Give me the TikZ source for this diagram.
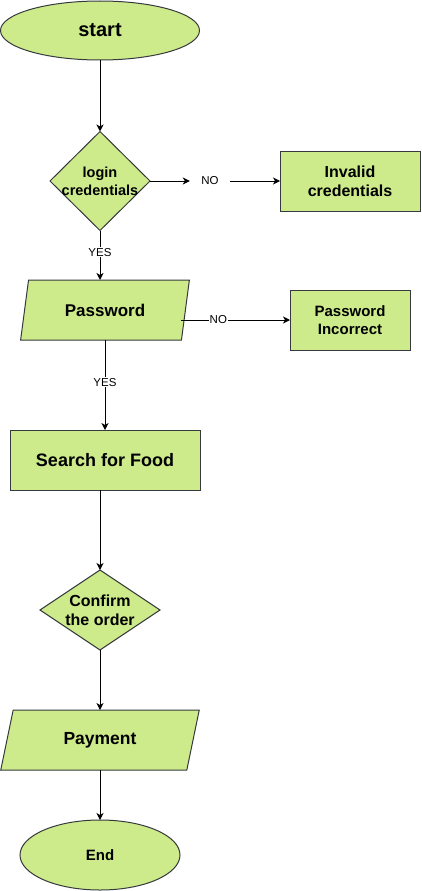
\documentclass[tikz,border=0pt]{standalone}
\usepackage{fontspec}
\setmainfont{Liberation Sans}
\usetikzlibrary{shapes.geometric}
\usetikzlibrary{arrows.meta}
\usetikzlibrary{math}

\definecolor{leaf}{HTML}{CDEB8B}
\definecolor{rim}{HTML}{36393D}

\tikzset{
  base/.style={draw=rim, fill=leaf, line width=1pt, align=center,
    inner sep=0pt, outer sep=0pt},
  terminal/.style={base, ellipse},
  process/.style={base, rectangle},
  decision/.style={base, diamond},
  inout/.style={base, trapezium, trapezium left angle=71.57,
    trapezium right angle=108.43, trapezium stretches=true},
  flow/.style={line width=1pt, -{Stealth[length=7pt, width=7pt, inset=2pt]}},
  tag/.style={font=\fontsize{11.5}{14}\selectfont, fill=white, inner sep=1pt},
}

\begin{document}
\begin{tikzpicture}[x=1pt, y=-1pt]

  \tikzmath{
    \colx  = 100; % main column
    \sidex = 350; % column of the error boxes
  }

  \useasboundingbox (0,0) rectangle (421,891);

  % main column
  \node[terminal, minimum width=199pt, minimum height=59pt,
    font=\bfseries\fontsize{20}{24}\selectfont] (start) at (\colx, 30.5) {start};

  \node[decision, minimum width=100pt, minimum height=99pt,
    label={[font=\bfseries\fontsize{14.5}{18}\selectfont, align=center]center:{login\\credentials}}]
    (login) at (\colx, 181) {};

  \node[inout, minimum width=170pt, minimum height=60pt,
    font=\bfseries\fontsize{17}{20}\selectfont] (pw) at (105, 310) {Password};

  \node[process, minimum width=190pt, minimum height=60pt,
    font=\bfseries\fontsize{18}{21}\selectfont] (search) at (105, 460) {Search for Food};

  \node[decision, minimum width=120pt, minimum height=80pt,
    label={[font=\bfseries\fontsize{16}{19}\selectfont, align=center]center:{Confirm\\the order}}]
    (confirm) at (\colx, 610) {};

  \node[inout, minimum width=200pt, minimum height=60pt,
    font=\bfseries\fontsize{17.5}{21}\selectfont] (pay) at (\colx, 740) {Payment};

  \node[terminal, minimum width=160pt, minimum height=70pt,
    font=\bfseries\fontsize{15}{18}\selectfont] (end) at (\colx, 855) {End};

  % side boxes
  \node[minimum width=40pt, inner sep=0pt, font=\fontsize{11.5}{14}\selectfont]
    (no1) at (210, 181) {NO};

  \node[process, minimum width=140pt, minimum height=60pt,
    font=\bfseries\fontsize{16}{19}\selectfont] (inv) at (\sidex, 181) {Invalid\\credentials};

  \node[process, minimum width=120pt, minimum height=60pt,
    font=\bfseries\fontsize{15}{18}\selectfont] (pwi) at (\sidex, 320) {Password\\Incorrect};

  % connectors
  \draw[flow] (start) -- (login);
  \draw[flow] (login) -- (no1);
  \draw[flow] (no1) -- (inv);
  \draw[flow] (login.south) -- (login.south |- pw.north)
    node[tag, pos=0.44] {YES};
  \draw[flow] ([xshift=-4pt]pw.east |- pwi) -- (pwi)
    node[tag, pos=0.34] {NO};
  \draw[flow] (pw.south -| search.north) -- (search.north)
    node[tag, pos=0.47] {YES};
  \draw[flow] (confirm.north |- search.south) -- (confirm);
  \draw[flow] (confirm) -- (pay);
  \draw[flow] (pay) -- (end);

\end{tikzpicture}
\end{document}
